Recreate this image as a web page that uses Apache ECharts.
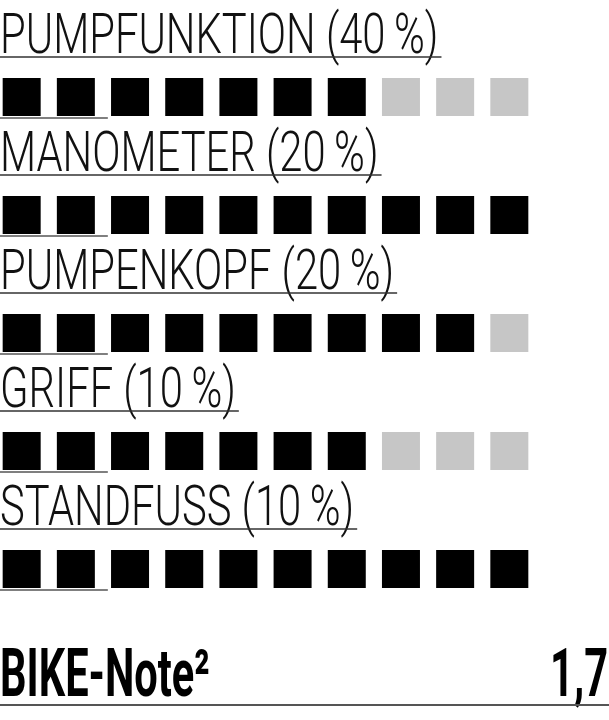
<!DOCTYPE html>
<html><head><meta charset="utf-8">
<script src="https://cdn.jsdelivr.net/npm/echarts@6/dist/echarts.min.js"></script>
<style>html,body{margin:0;padding:0;background:#fff}#c{width:609px;height:720px}</style>
</head><body><div id="c"></div>
<script>
const categories = ['PUMPFUNKTION (40\u2009%)', 'MANOMETER (20\u2009%)', 'PUMPENKOPF (20\u2009%)', 'GRIFF (10\u2009%)', 'STANDFUSS (10\u2009%)'];
const filledCounts = [7, 10, 9, 7, 10];
const totalSquares = 10;
const noteLabel = 'BIKE-Note²';
const noteValue = '1,7';

const filledData = [], emptyData = [];
categories.forEach((c, i) => {
  for (let j = 0; j < totalSquares; j++) {
    (j < filledCounts[i] ? filledData : emptyData).push([j, i]);
  }
});

const chart = echarts.init(document.getElementById('c'));
chart.setOption({
  animation: false,
  grid: {left: 0, right: 78, top: 38, bottom: 92},
  xAxis: {type: 'value', min: -0.4, max: 9.4, show: false},
  yAxis: {type: 'value', min: -0.5, max: 4.5, inverse: true, show: false},
  series: [
    {type: 'scatter', name: 'erfüllt', symbol: 'rect', symbolSize: 38, data: filledData, itemStyle: {color: '#000', opacity: 1}},
    {type: 'scatter', name: 'offen', symbol: 'rect', symbolSize: 38, data: emptyData, itemStyle: {color: '#c6c6c6', opacity: 1}}
  ]
});

const LFONT = 'Roboto', LW = 300, LSIZE = 56, LSX = 0.745;
const BFONT = 'Roboto', BSIZE = 66, BSX = 0.63;
const ctx = document.createElement('canvas').getContext('2d');
function measure(t, w, s, f) { ctx.font = w + ' ' + s + 'px "' + f + '"'; return ctx.measureText(t).width; }

const g = [];
categories.forEach((c, i) => {
  const p = chart.convertToPixel({gridIndex: 0}, [-0.4, i]);
  const pe = chart.convertToPixel({gridIndex: 0}, [1.59, i]);
  const cy = p[1];
  const w = measure(c, LW, LSIZE, LFONT) * LSX;
  g.push({type: 'text', x: 0, y: cy - 58, scaleX: LSX,
    style: {text: c, x: 0, y: 0, fill: '#111', font: LW + ' ' + LSIZE + 'px "' + LFONT + '"', align: 'left', verticalAlign: 'middle'}});
  g.push({type: 'line', shape: {x1: 0, y1: cy - 40, x2: w + 3, y2: cy - 40}, style: {stroke: '#333', lineWidth: 1.3}});
  g.push({type: 'line', shape: {x1: 0, y1: cy + 21, x2: pe[0], y2: cy + 21}, style: {stroke: '#555', lineWidth: 1.5}});
});
g.push({type: 'text', x: 0, y: 679, scaleX: BSX,
  style: {text: noteLabel, x: 0, y: 0, fill: '#000', font: 'bold ' + BSIZE + 'px "' + BFONT + '"', align: 'left', verticalAlign: 'middle'}});
g.push({type: 'text', x: 608, y: 679, scaleX: BSX,
  style: {text: noteValue, x: 0, y: 0, fill: '#000', font: 'bold ' + BSIZE + 'px "' + BFONT + '"', align: 'right', verticalAlign: 'middle'}});
g.push({type: 'line', shape: {x1: 0, y1: 705, x2: 609, y2: 705}, style: {stroke: '#555', lineWidth: 2}});
chart.setOption({graphic: g});
</script></body></html>
